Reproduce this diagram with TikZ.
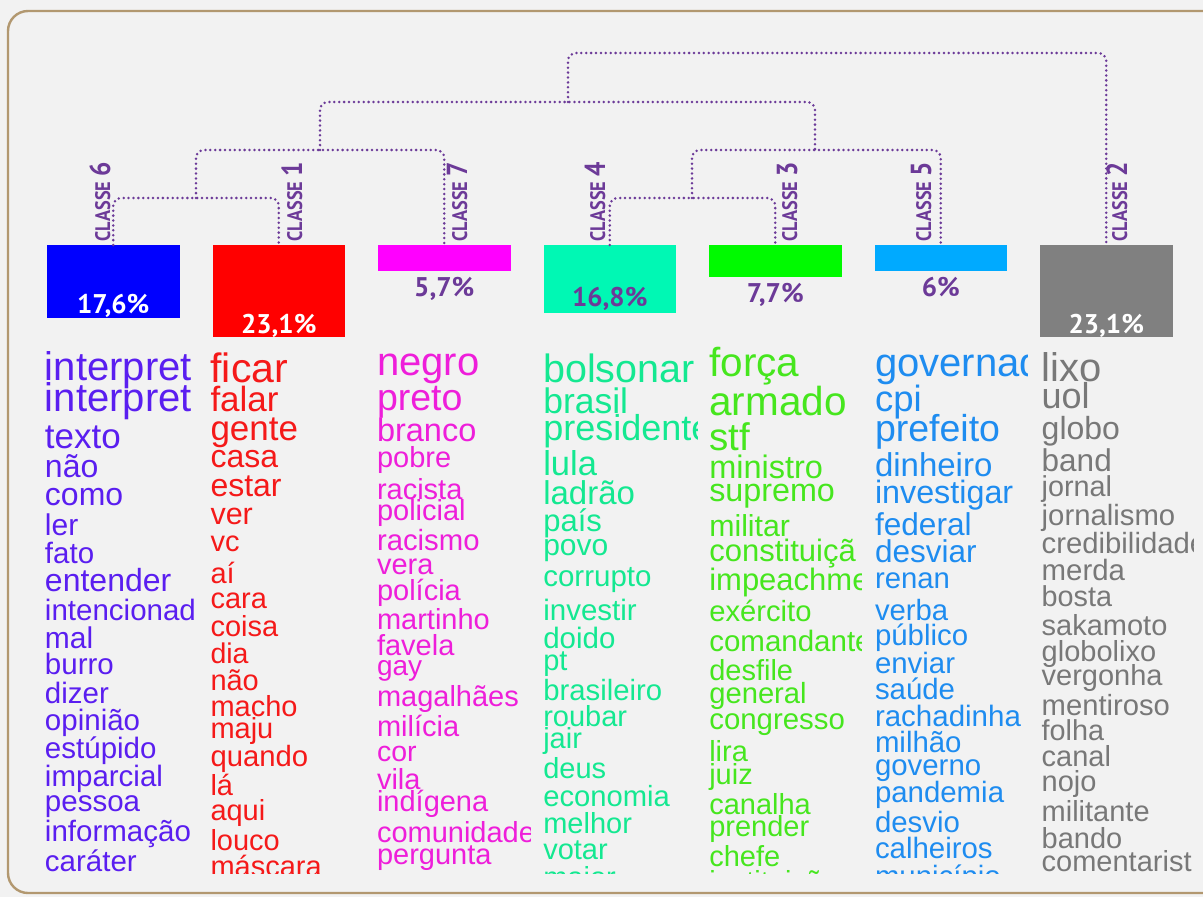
\documentclass[tikz,border=0pt]{standalone}
\usepackage{fontspec}
\setmainfont{Liberation Sans}
\newfontfamily\classfont{PT Sans}
\usetikzlibrary{positioning}
\definecolor{bgColor}{RGB}{242,242,242}
\definecolor{frameColor}{RGB}{178,152,112}
\definecolor{treeColor}{RGB}{108,58,152}
\definecolor{barSix}{RGB}{0,0,255}
\definecolor{barOne}{RGB}{255,0,0}
\definecolor{barSeven}{RGB}{255,0,255}
\definecolor{barFour}{RGB}{0,248,180}
\definecolor{barThree}{RGB}{0,250,0}
\definecolor{barFive}{RGB}{0,170,255}
\definecolor{barTwo}{RGB}{128,128,128}
\definecolor{wordSix}{RGB}{90,30,240}
\definecolor{wordOne}{RGB}{245,25,25}
\definecolor{wordSeven}{RGB}{238,30,218}
\definecolor{wordFour}{RGB}{20,232,145}
\definecolor{wordThree}{RGB}{70,230,30}
\definecolor{wordFive}{RGB}{30,140,240}
\definecolor{wordTwo}{RGB}{120,120,120}
\newcommand\fs[1]{\fontsize{#1}{#1}\selectfont}
\newcommand\classname[1]{\scalebox{0.87}[1]{\fs{21}CLASSE \fs{29}#1}}
\tikzset{bar/.style={draw=none, anchor=north, inner sep=0pt, minimum width=132.5pt}}
\tikzset{pct/.style={font=\classfont\bfseries\fs{27}, inner sep=0pt, text=treeColor}}
\tikzset{classlabel/.style={font=\classfont\bfseries, text=treeColor, rotate=90, anchor=base west, inner sep=0pt}}
\tikzset{dend/.style={draw=treeColor, line width=2.8pt, dash pattern=on 0pt off 4.9pt, line cap=round, rounded corners=8pt}}
\tikzset{word/.style={anchor=base west, inner sep=0pt, outer sep=0pt}}

\begin{document}
\begin{tikzpicture}[x=1pt, y=-1pt]
\useasboundingbox (0,0) rectangle (1203,897);
\fill[bgColor] (0,0) rectangle (1203,897);
\draw[frameColor, line width=2.4pt, rounded corners=20pt] (8,11) rectangle (1230,893);

% Bars
\node (c6) [bar, fill=barSix, minimum height=73pt] at (113.25,245) {};
\node (c1) [bar, fill=barOne, minimum height=92pt] at (278.75,245) {};
\node (c7) [bar, fill=barSeven, minimum height=26pt] at (444.25,245) {};
\node (c4) [bar, fill=barFour, minimum height=68pt] at (609.75,245) {};
\node (c3) [bar, fill=barThree, minimum height=32pt] at (775.25,245) {};
\node (c5) [bar, fill=barFive, minimum height=26pt] at (940.75,245) {};
\node (c2) [bar, fill=barTwo, minimum height=92pt] at (1106.25,245) {};

% Percentages
\node (p6) [pct, text=white, anchor=base] at (113.25,313) {17,6\%};
\node (p1) [pct, text=white, anchor=base] at (278.75,333) {23,1\%};
\node (p7) [pct, below=6pt of c7] {5,7\%};
\node (p4) [pct, anchor=base] at (609.75,306) {16,8\%};
\node (p3) [pct, below=6pt of c3] {7,7\%};
\node (p5) [pct, below=6pt of c5] {6\%};
\node (p2) [pct, text=white, anchor=base] at (1106.25,333) {23,1\%};

% Class names
\node (l6) [classlabel] at (110,241.5) {\classname{6}};
\node (l1) [classlabel] at (302,241.5) {\classname{1}};
\node (l7) [classlabel] at (467,241.5) {\classname{7}};
\node (l4) [classlabel] at (605,241.5) {\classname{4}};
\node (l3) [classlabel] at (797,241.5) {\classname{3}};
\node (l5) [classlabel] at (931,241.5) {\classname{5}};
\node (l2) [classlabel] at (1127,241.5) {\classname{2}};

% Tree
\coordinate (j61) at (196,198);
\coordinate (j617) at (320,150);
\coordinate (j43) at (692,198);
\coordinate (j435) at (815,150);
\coordinate (jtop) at (568,102);
\coordinate (jroot) at (836,53);

\draw[dend] (c6.north) |- (j61) -| (c1.north);
\draw[dend] (j61) |- (j617) -| (c7.north);
\draw[dend] (c4.north) |- (j43) -| (c3.north);
\draw[dend] (j43) |- (j435) -| (c5.north);
\draw[dend] (j617) |- (jtop) -| (j435);
\draw[dend] (jtop) |- (jroot) -| (c2.north);

% Words, class 6
\begin{scope}
\clip (42,345) rectangle (197,873);
\foreach \w/\s/\y [count=\k] in {interpret/40/380, interpret/40/411.7, texto/35/448, não/32/477, como/32/505.7, ler/30/535, fato/29.5/563, entender/32/591.7, intencionad/29.5/620.7, mal/30/648, burro/29.5/674, dizer/29.5/703, opinião/29.5/730, estúpido/29.5/758, imparcial/29.5/786.7, pessoa/29.5/811.7, informação/29.5/841.7, caráter/29.5/871.7}
  \node (w6-\k) [word, text=wordSix, font=\fs{\s}] at (45,\y) {\w};
\end{scope}

% Words, class 1
\begin{scope}
\clip (207,345) rectangle (362,873);
\foreach \w/\s/\y [count=\k] in {ficar/41/382.7, falar/35/411.7, gente/35/440, casa/32/467.7, estar/32/496.7, ver/30.5/524, vc/29/551.7, aí/29/583, cara/29/608, coisa/29/636, dia/28.5/663, não/29/690, macho/29/716.7, maju/29/738, quando/29.3/766.7, lá/29/795, aqui/29/820, louco/29/850, máscara/29/876.7}
  \node (w1-\k) [word, text=wordOne, font=\fs{\s}] at (210.5,\y) {\w};
\end{scope}

% Words, class 7
\begin{scope}
\clip (374,345) rectangle (530,873);
\foreach \w/\s/\y [count=\k] in {negro/40/375, preto/37.5/410, branco/32.5/441, pobre/29/467.7, racista/29/499, policial/29/520, racismo/29.3/550.7, vera/29/574.3, polícia/29/600, martinho/29/629.3, favela/29/655, gay/28/675.5, magalhães/29/706, milícia/29/736, cor/28.5/761, vila/29/789.3, indígena/29/811.7, comunidade/29/842, pergunta/29/864.5}
  \node (w7-\k) [word, text=wordSeven, font=\fs{\s}] at (377,\y) {\w};
\end{scope}

% Words, class 4
\begin{scope}
\clip (540,345) rectangle (697,873);
\foreach \w/\s/\y [count=\k] in {bolsonar/39.5/382.7, brasil/35.5/413.3, presidente/36/440, lula/34.5/475, ladrão/33/504, país/31/531.7, povo/30/555, corrupto/29.5/586.7, investir/29.5/620, doido/29.5/648.3, pt/29/670, brasileiro/29.3/700, roubar/29/726.7, jair/29/748.3, deus/29/778.3, economia/29.2/806, melhor/29/833.3, votar/29/859.3, maior/29/887}
  \node (w4-\k) [word, text=wordFour, font=\fs{\s}] at (543.3,\y) {\w};
\end{scope}

% Words, class 3
\begin{scope}
\clip (706,345) rectangle (861,873);
\foreach \w/\s/\y [count=\k] in {força/40.5/376.7, armado/40.5/415, stf/38.5/450, ministro/32.5/478.3, supremo/32.3/501.7, militar/30.3/536.7, constituiçã/31/561.7, impeachme/31/590, exército/29.2/621.5, comandante/29.5/651.7, desfile/29/680, general/29.2/703.3, congresso/29.4/729.3, lira/29/761.7, juiz/29/784, canalha/29/814.3, prender/29/836.7, chefe/29/866, instituição/29/891.5}
  \node (w3-\k) [word, text=wordThree, font=\fs{\s}] at (709.3,\y) {\w};
\end{scope}

% Words, class 5
\begin{scope}
\clip (872,345) rectangle (1027,873);
\foreach \w/\s/\y [count=\k] in {governad/40/376.7, cpi/36.5/411.7, prefeito/37.5/441.7, dinheiro/33/476.7, investigar/32.3/503.3, federal/31.6/535, desviar/31.5/562.7, renan/29.3/588.3, verba/29.3/620.7, público/29.4/645, enviar/29.4/673.3, saúde/29.4/699.3, rachadinha/29.5/726.7, milhão/29.4/752.7, governo/29.4/775, pandemia/29.4/802.7, desvio/29.4/832.7, calheiros/29.4/858.5, município/29.4/886}
  \node (w5-\k) [word, text=wordFive, font=\fs{\s}] at (875,\y) {\w};
\end{scope}

% Words, class 2
\begin{scope}
\clip (1038,345) rectangle (1193,873);
\foreach \w/\s/\y [count=\k] in {lixo/40/381.7, uol/36/408.3, globo/32/439.3, band/31.5/471.7, jornal/28.8/496.7, jornalismo/29.3/525, credibilidade/29.3/553.3, merda/29.4/580, bosta/28.8/606.7, sakamoto/29/635, globolixo/29/661.7, vergonha/29/685, mentiroso/29.2/715, folha/28.8/740, canal/29/766.7, nojo/29/791.7, militante/29/821.7, bando/29/848.3, comentarist/29/871.7}
  \node (w2-\k) [word, text=wordTwo, font=\fs{\s}] at (1041.7,\y) {\w};
\end{scope}

\end{tikzpicture}
\end{document}
